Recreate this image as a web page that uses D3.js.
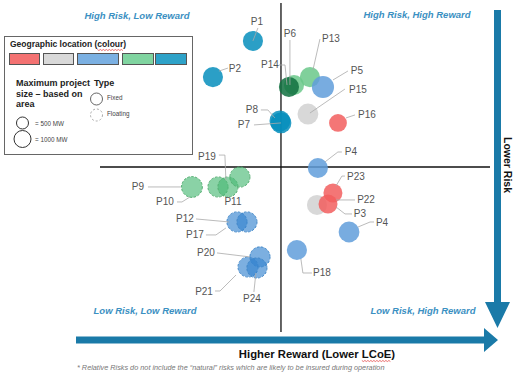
<!DOCTYPE html>
<html>
<head>
<meta charset="utf-8">
<script src="https://cdn.jsdelivr.net/npm/d3@7"></script>
<style>
  body { margin: 0; background: #fff; }
  svg { display: block; font-family: "Liberation Sans", Arial, sans-serif; }
</style>
</head>
<body>
<svg id="chart" width="514" height="387"></svg>
<script>
// project data (reward = relative LCoE advantage, risk = relative risk score)
var names    = ["P1","P2","P14","P6","P13","P5","P15","P16","P8","P7","P4","P3","P22","P23","P4","P18",
                "P9","P10","P11","P19","P12","P17","P20","P21","P24"];
var reward   = [-0.155,-0.376,0.072,0.044,0.160,0.232,0.149,0.315,-0.006,0.000,0.204,0.199,0.260,0.287,0.376,0.088,
                -0.492,-0.348,-0.293,-0.227,-0.243,-0.188,-0.116,-0.182,-0.133];
var risk     = [0.764,0.545,0.497,0.485,0.545,0.485,0.321,0.267,0.279,0.267,-0.006,-0.230,-0.224,-0.158,-0.394,-0.503,
                -0.121,-0.121,-0.121,-0.061,-0.333,-0.333,-0.545,-0.606,-0.612];
var capacity = [1400,1400,1400,1400,1400,1700,1500,1100,1500,1500,1400,1400,1250,1250,1500,1400,
                1500,1400,1400,1400,1400,1400,1400,1400,1400];
var region   = [4,4,3,5,3,2,1,0,4,4,2,1,0,0,2,2, 3,3,3,3,2,2,2,2,2];
var type     = ["fixed","fixed","fixed","fixed","fixed","fixed","fixed","fixed","fixed","fixed","fixed","fixed","fixed","fixed","fixed","fixed",
                "floating","floating","floating","floating","floating","floating","floating","floating","floating"];

var legendSizes = [500, 1000];
var legendTypes = ["Fixed", "Floating"];
var quadrants = ["High Risk, Low Reward","High Risk, High Reward","Low Risk, Low Reward","Low Risk, High Reward"];

// styles
var fixedColors = ["#f25e5e","#d1d1d1","#609edb","#6ac889","#068ebc","#107040"];
var floatColors = ["#f03c3c","#c8c8c8","#3584d0","#4bba76","#068ebc","#107040"];
var floatStroke = ["#d04040","#999","#3f86c8","#52ad70","#1a7aa8","#107040"];
var legendColors = ["#f47272","#d9d9d9","#7bb0e2","#80d4a0","#2ea2c8"];
var arrowColor = "#1a7aa8";
var quadColor = "#3b90c2";

// label placement relative to the circle centre: [dx, dy], leader points
var labelPos = [
  [4,-19,[[5,-13],[0,0]]],
  [22,-9,[[15,-9],[6,-6]]],
  [-24,-20,[[-15,-20],[-9,-20],[-7,0]]],
  [1,-53,[[1,-47],[1,-2]]],
  [21,-39,[[10,-38],[3,-7]]],
  [34,-16,[[25,-16],[10,-7]]],
  [50,-25,[[37,-25],[2,-1]]],
  [29,-8,[[17,-8],[8,-5]]],
  [-28,-11,[[-19,-11],[-12,-11],[-5,-3]]],
  [-37,2,[[-27,2],[0,0]]],
  [33,-16,[[24,-16],[20,-16],[7,-6]]],
  [43,9,[[35,9],[28,9],[19,2]]],
  [38,-4,[[27,-4],[8,-4]]],
  [23,-17,[[12,-17],[9,-17],[3,-7]]],
  [33,-10,[[25,-10],[21,-10],[9,-5]]],
  [25,23,[[15,23],[6,23],[4,9]]],
  [-54,0,[[-44,0],[-11,0]]],
  [-53,15,[[-41,15],[-36,15],[-28,10]]],
  [5,15,[]],
  [-33,-21,[[-21,-22],[-15,-22],[-14,3]]],
  [-52,-3,[[-41,-3],[-8,0]]],
  [-52,13,[[-41,13],[-31,13],[-21,6]]],
  [-54,-4,[[-43,-4],[-10,0]]],
  [-44,25,[[-33,24],[-28,24],[-12,8]]],
  [-5,31,[[-3,24],[-1,5]]]
];

var svg = d3.select("#chart");

var x = d3.scaleLinear().domain([-1, 1.155]).range([100, 490]);
var y = d3.scaleLinear().domain([-1, 1]).range([332, 2]);
var r = d3.scaleSqrt().domain([0, 1000]).range([0, 8.5]);

// quadrant lines
svg.append("line").attr("x1", x(0)).attr("x2", x(0)).attr("y1", 3).attr("y2", y(-1))
  .attr("stroke", "#111").attr("stroke-width", 1.3);
svg.append("line").attr("x1", x(-1)).attr("x2", x(1.155)).attr("y1", y(0)).attr("y2", y(0))
  .attr("stroke", "#111").attr("stroke-width", 1.3);

// quadrant captions
var qx = [137, 417, 145, 423], qy = [19, 18, 314, 314];
svg.selectAll("text.quad").data(quadrants).enter().append("text")
  .attr("class", "quad")
  .attr("x", function(d, i){ return qx[i]; })
  .attr("y", function(d, i){ return qy[i]; })
  .attr("text-anchor", "middle")
  .attr("font-size", 9.5).attr("font-weight", "bold").attr("font-style", "italic")
  .attr("fill", quadColor)
  .text(function(d){ return d; });

// arrows
svg.append("path")
  .attr("d", "M76,336.5 L484,336.5 L484,328 L498,340 L484,352 L484,343.5 L76,343.5 Z")
  .attr("fill", arrowColor);
svg.append("path")
  .attr("d", "M494,10 L501,10 L501,302 L510,302 L497.5,328 L485,302 L494,302 Z")
  .attr("fill", arrowColor);

svg.append("text").attr("transform", "translate(504,165) rotate(90)")
  .attr("text-anchor", "middle").attr("font-size", 10.5).attr("font-weight", "bold")
  .attr("fill", "#111").text("Lower Risk");

var xTitle = svg.append("text").attr("x", 317).attr("y", 358).attr("text-anchor", "middle")
  .attr("font-size", 11.3).attr("font-weight", "bold").attr("fill", "#111")
  .text("Higher Reward (Lower LCoE)");

svg.append("text").attr("x", 77).attr("y", 370)
  .attr("font-size", 7.3).attr("font-style", "italic").attr("fill", "#777")
  .text("* Relative Risks do not include the \u201cnatural\u201d risks which are likely to be insured during operation");

// points
var pts = names.map(function(n, i){
  return {name: n, rw: reward[i], rk: risk[i], mw: capacity[i], reg: region[i], type: type[i], lp: labelPos[i]};
});

var g = svg.append("g");
g.selectAll("circle").data(pts).enter().append("circle")
  .attr("cx", function(d){ return x(d.rw); })
  .attr("cy", function(d){ return y(d.rk); })
  .attr("r", function(d){ return r(d.mw); })
  .attr("fill", function(d){ return d.type == "fixed" ? fixedColors[d.reg] : floatColors[d.reg]; })
  .attr("fill-opacity", function(d){ return d.type == "fixed" ? 0.85 : 0.65; })
  .attr("stroke", function(d){ return d.type == "fixed" ? "none" : floatStroke[d.reg]; })
  .attr("stroke-width", 1)
  .attr("stroke-dasharray", "2.5,1.5");

// leader lines
var line = d3.line();
g.selectAll("path.leader").data(pts.filter(function(d){ return d.lp[2].length; })).enter().append("path")
  .attr("class", "leader")
  .attr("d", function(d){
    var cx = x(d.rw), cy = y(d.rk);
    return line(d.lp[2].map(function(p){ return [cx + p[0], cy + p[1]]; }));
  })
  .attr("fill", "none").attr("stroke", "#aaa").attr("stroke-width", 0.8);

g.selectAll("text.lbl").data(pts).enter().append("text")
  .attr("class", "lbl")
  .attr("x", function(d){ return x(d.rw) + d.lp[0]; })
  .attr("y", function(d){ return y(d.rk) + d.lp[1]; })
  .attr("dy", "0.35em")
  .attr("text-anchor", "middle")
  .attr("font-size", 10).attr("fill", "#555")
  .text(function(d){ return d.name; });

// legend
var lg = svg.append("g");
lg.append("rect").attr("x", 4.5).attr("y", 36.5).attr("width", 188).attr("height", 118)
  .attr("fill", "#fff").attr("stroke", "#666").attr("stroke-width", 1);
var lgTitle = lg.append("text").attr("x", 10).attr("y", 47).attr("font-size", 8.5)
  .attr("font-weight", "bold").attr("fill", "#222").text("Geographic location (colour)");

var swX = [9, 43, 77, 122, 155], swW = [30, 30, 41, 31, 31];
lg.selectAll("rect.sw").data(legendColors).enter().append("rect")
  .attr("class", "sw")
  .attr("x", function(d, i){ return swX[i] + 0.5; }).attr("y", 53.5)
  .attr("width", function(d, i){ return swW[i]; }).attr("height", 11)
  .attr("fill", function(d){ return d; }).attr("stroke", "#555").attr("stroke-width", 1);

lg.append("text").attr("font-size", 9).attr("font-weight", "bold").attr("fill", "#222")
  .selectAll("tspan").data(["Maximum project", "size \u2013 based on", "area"]).enter().append("tspan")
  .attr("x", 16).attr("y", function(d, i){ return 86 + i * 10.5; }).text(function(d){ return d; });
lg.append("text").attr("x", 94).attr("y", 86).attr("font-size", 9).attr("font-weight", "bold")
  .attr("fill", "#222").text("Type");

var szY = [123, 139];
lg.selectAll("circle.sz").data(legendSizes).enter().append("circle")
  .attr("class", "sz").attr("cx", 22.5).attr("cy", function(d, i){ return szY[i]; })
  .attr("r", function(d){ return r(d); })
  .attr("fill", "#fff").attr("stroke", "#333").attr("stroke-width", 1);
lg.selectAll("text.sz").data(legendSizes).enter().append("text")
  .attr("class", "sz").attr("x", 35).attr("y", function(d, i){ return szY[i] + 2.5; })
  .attr("font-size", 6.3).attr("fill", "#444")
  .text(function(d){ return "= " + d + " MW"; });

var tyY = [99, 115];
lg.selectAll("circle.ty").data(legendTypes).enter().append("circle")
  .attr("class", "ty").attr("cx", 96.5).attr("cy", function(d, i){ return tyY[i]; })
  .attr("r", 6)
  .attr("fill", "#fff").attr("stroke", function(d, i){ return i ? "#aaa" : "#666"; })
  .attr("stroke-width", 1)
  .attr("stroke-dasharray", function(d, i){ return i ? "2,2" : null; });
lg.selectAll("text.ty").data(legendTypes).enter().append("text")
  .attr("class", "ty").attr("x", 107).attr("y", function(d, i){ return tyY[i] + 1; })
  .attr("font-size", 6.3).attr("fill", "#444").text(function(d){ return d; });

// spell-check squiggles, as seen in the source slide
function squiggle(textSel, from, to){
  var node = textSel.node();
  var a = node.getStartPositionOfChar(from), b = node.getEndPositionOfChar(to);
  var yy = a.y + 2.5, pts2 = [];
  for (var xx = a.x, k = 0; xx <= b.x; xx += 1.5, k++) pts2.push([xx, yy + (k % 2 ? 1 : 0)]);
  svg.append("path").attr("d", d3.line()(pts2)).attr("fill", "none")
    .attr("stroke", "#e03030").attr("stroke-width", 0.7);
}
squiggle(lgTitle, 21, 26);
squiggle(xTitle, 21, 24);
</script>
</body>
</html>
